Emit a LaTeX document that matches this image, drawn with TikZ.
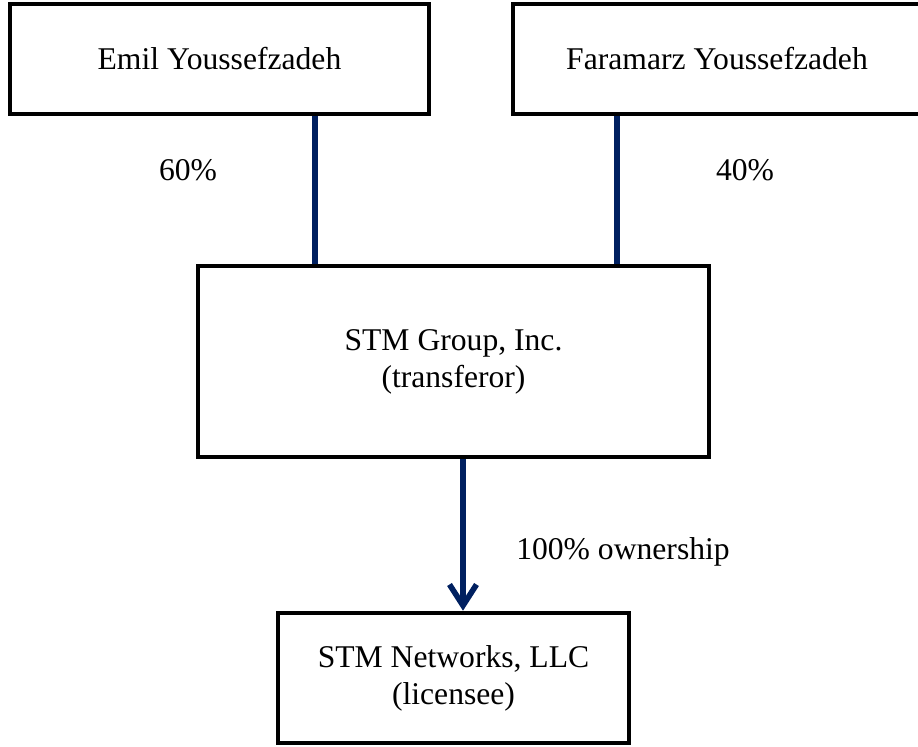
\documentclass[tikz,border=0pt]{standalone}
\usepackage{fontspec}
\setmainfont{Liberation Serif}
\usetikzlibrary{arrows.meta}
\definecolor{ownblue}{HTML}{002060}
\tikzset{
	box/.style = {draw, line width=2.6pt, align=center, inner sep=0pt, font=\fontsize{18}{21}\selectfont},
	own/.style = {draw=ownblue, line width=3.2pt},
	lbl/.style = {font=\fontsize{18}{21}\selectfont}
}
\begin{document}
\begin{tikzpicture}
		\useasboundingbox (0,0) rectangle (18.36,14.92);
		% owners
		\node[box, minimum width=8.38cm, minimum height=2.2cm] (emil) at (4.39,13.74) {Emil Youssefzadeh};
		\node[box, minimum width=8.16cm, minimum height=2.2cm] (faramarz) at (14.34,13.74) {Faramarz Youssefzadeh};
		% companies
		\node[box, minimum width=10.22cm, minimum height=3.82cm] (group) at (9.07,7.69) {STM Group, Inc.\\(transferor)};
		\node[box, minimum width=7.02cm, minimum height=2.6cm] (networks) at (9.07,1.36) {STM Networks, LLC\\(licensee)};
		% shares
		\draw[own] ([xshift=1.91cm]emil.south) -- ([xshift=1.91cm]emil.south |- group.north);
		\draw[own] ([xshift=-2cm]faramarz.south) -- ([xshift=-2cm]faramarz.south |- group.north);
		\draw[own, -{Straight Barb[length=0.42cm, width=0.54cm]}] ([xshift=0.19cm]group.south) -- ([xshift=0.19cm]group.south |- networks.north);
		\node[lbl] (emilshare) at (3.76,11.52) {60\%};
		\node[lbl] (faramarzshare) at (14.9,11.52) {40\%};
		\node[lbl] (groupshare) at (12.46,3.88) {100\% ownership};
	\end{tikzpicture}
\end{document}
